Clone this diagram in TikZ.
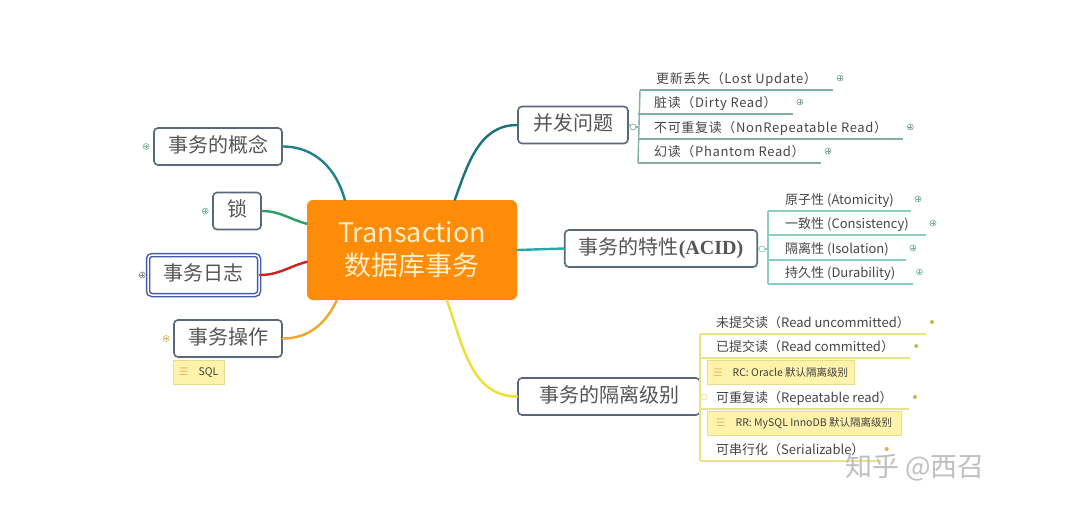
\documentclass[tikz,border=0pt]{standalone}
\usepackage{fontspec}
\setmainfont{Noto Sans CJK SC}
\newfontfamily\acidfont{Liberation Serif}
\newfontfamily\symfont{DejaVu Sans}
\usetikzlibrary{positioning,calc}
\definecolor{boxline}{RGB}{88,104,122}
\definecolor{topictext}{RGB}{85,85,85}
\definecolor{leaftext}{RGB}{70,70,70}
\definecolor{txorange}{RGB}{255,140,8}
\definecolor{txtext}{RGB}{255,238,200}
\definecolor{logblue}{RGB}{70,90,170}
\definecolor{notefill}{RGB}{255,242,170}
\definecolor{noteline}{RGB}{235,220,140}
\definecolor{noteicon}{RGB}{225,190,110}
\definecolor{brConcept}{RGB}{30,130,140}
\definecolor{brLock}{RGB}{40,160,100}
\definecolor{brLog}{RGB}{205,35,35}
\definecolor{brOp}{RGB}{240,165,45}
\definecolor{brIssue}{RGB}{25,115,125}
\definecolor{brAcid}{RGB}{40,170,170}
\definecolor{brIso}{RGB}{240,222,50}
\definecolor{lnIssue}{RGB}{130,175,165}
\definecolor{lnAcid}{RGB}{140,205,190}
\definecolor{lnIso}{RGB}{232,228,130}
\definecolor{mkIssue}{RGB}{125,160,150}
\definecolor{mkAcid}{RGB}{110,180,145}
\definecolor{mkIso}{RGB}{195,185,80}

\tikzset{
  topic/.style={draw=boxline,line width=1.6pt,rounded corners=4pt,fill=white,
    text=topictext,font=\fontsize{20}{22}\selectfont,inner xsep=14pt,inner ysep=9pt,
    text height=15pt,text depth=4pt},
  leaf/.style={anchor=south west,text=leaftext,font=\fontsize{13}{15}\selectfont,
    inner xsep=16pt,inner ysep=3pt,text height=10pt,text depth=3pt},
  wideleaf/.style={leaf,font=\fontsize{13}{15}\selectfont\addfontfeature{LetterSpace=5}},
  plusmark/.style={circle,draw=#1,fill=white,line width=0.6pt,minimum size=6pt,inner sep=0pt,
    path picture={\draw[#1,line width=0.5pt]
      ([xshift=-1.8pt]path picture bounding box.center)--([xshift=1.8pt]path picture bounding box.center)
      ([yshift=-1.8pt]path picture bounding box.center)--([yshift=1.8pt]path picture bounding box.center);}},
  plusmark/.default=gray,
  knob/.style={circle,draw=#1,fill=white,line width=0.7pt,minimum size=6pt,inner sep=0pt},
  dotmark/.style={circle,fill=#1,minimum size=4pt,inner sep=0pt},
  note/.style={anchor=north west,fill=notefill,draw=noteline,line width=0.4pt,
    font=\fontsize{10.5}{12}\selectfont,text=black!75,minimum height=24pt,inner xsep=6pt},
  branch/.style={line width=2.4pt,line cap=round},
  uline/.style={line width=1.4pt}
}
\newcommand{\noteicon}{\textcolor{noteicon}{\symfont ☰}\hspace{10pt}}

\begin{document}
\begin{tikzpicture}[x=1pt,y=-1pt]
  \useasboundingbox (0,0) rectangle (1069,509);
  \fill[white] (0,0) rectangle (1069,509);

  % centre
  \node[fill=txorange,rounded corners=6pt,minimum width=210pt,minimum height=100pt,
    text=txtext,align=center,font=\fontsize{27}{33}\selectfont] (tx) at (412,250)
    {Transaction\\数据库事务};

  % left topics
  \node[topic] (concept) at (218,146.5) {事务的概念};
  \node[topic] (lock) at (237,211) {锁};
  \node[topic,draw=logblue,double=white,double distance=1.5pt,line width=1.5pt,
    minimum width=111pt,minimum height=40pt] (log) at (203.5,275) {事务日志};
  \node[topic] (op) at (228,338.5) {事务操作};
  \node[note] (sql) at (173,360) {\noteicon SQL};

  \node[plusmark=mkAcid] (mconcept) at ([xshift=-7pt]concept.west) {};
  \node[plusmark=mkAcid] (mlock) at ([xshift=-7pt]lock.west) {};
  \node[plusmark=gray] (mlog) at ([xshift=-5pt]log.west) {};
  \node[plusmark=mkIso] (mop) at ([xshift=-7pt]op.west) {};

  \draw[branch,brConcept] (concept.east) to[out=0,in=105] ([xshift=38pt]tx.north west);
  \draw[branch,brLock] (lock.east) to[out=0,in=165] ([yshift=-24pt]tx.north west);
  \draw[branch,brLog] (log.east) to[out=0,in=195] ([yshift=-62pt]tx.north west);
  \draw[branch,brOp] (op.east) to[out=0,in=245] ([xshift=30pt]tx.south west);

  % right topics
  \node[topic,inner xsep=15pt] (issue) at (573,125) {并发问题};
  \node[topic] (acid) at (661,248.5) {事务的特性{\acidfont\bfseries (ACID)}};
  \node[topic,minimum width=182pt] (iso) at (609,396.5) {事务的隔离级别};

  \draw[branch,brIssue] ([xshift=148pt]tx.north west) to[out=70,in=180] (issue.west);
  \draw[branch,brAcid] (tx.east) -- (acid.west);
  \draw[branch,brIso] ([xshift=140pt]tx.south west) to[out=-70,in=180] (iso.west);

  % concurrency problems
  \node[wideleaf] (lost) at (640,90) {更新丢失（Lost Update）};
  \node[wideleaf] (dirty) at (638,114) {脏读（Dirty Read）};
  \node[wideleaf] (nonrep) at (638,139) {不可重复读（NonRepeatable Read）};
  \node[wideleaf] (phantom) at (638,163) {幻读（Phantom Read）};
  \node[knob=lnIssue] (kissue) at (633,127) {};
  \draw[uline,lnIssue] (issue.east) -- (kissue);
  \draw[uline,lnIssue] (kissue) -- (kissue -| nonrep.south west);
  \draw[uline,lnIssue] (lost.south west) -- (phantom.south west);
  \foreach \n in {lost,dirty,nonrep,phantom} {
    \draw[uline,lnIssue] (\n.south west) -- (\n.south east);
    \node[plusmark=mkIssue] (m\n) at ([xshift=7pt,yshift=12pt]\n.south east) {};
  }

  % ACID
  \node[leaf,inner xsep=17pt] (atom) at (768,211) {原子性 (Atomicity)};
  \node[leaf,inner xsep=17pt] (cons) at (768,235) {一致性 (Consistency)};
  \node[leaf,inner xsep=17pt] (isol) at (768,260) {隔离性 (Isolation)};
  \node[leaf,inner xsep=17pt] (dura) at (768,284) {持久性 (Durability)};
  \node[knob=lnAcid] (kacid) at (762,249) {};
  \draw[uline,lnAcid] (acid.east) -- (kacid);
  \draw[uline,lnAcid] (kacid) -- (kacid -| atom.south west);
  \draw[uline,lnAcid] (atom.south west) -- (dura.south west);
  \foreach \n in {atom,cons,isol,dura} {
    \draw[uline,lnAcid] (\n.south west) -- (\n.south east);
    \node[plusmark=mkAcid] (m\n) at ([xshift=7pt,yshift=12pt]\n.south east) {};
  }

  % isolation levels
  \node[leaf] (ru) at (700,334) {未提交读（Read uncommitted）};
  \node[leaf] (rc) at (700,358) {已提交读（Read committed）};
  \node[note] (rcnote) at (707,360) {\noteicon RC: Oracle 默认隔离级别};
  \node[leaf] (rr) at (700,409) {可重复读（Repeatable read）};
  \node[note,inner xsep=9pt] (rrnote) at (707,411) {\noteicon RR: MySQL InnoDB 默认隔离级别};
  \node[leaf] (sz) at (700,461) {可串行化（Serializable）};
  \node[knob=lnIso] (kiso) at (704,397) {};
  \draw[uline,lnIso] (iso.east) -- (kiso);
  \draw[uline,lnIso] (ru.south west) -- (sz.south west);
  \foreach \n in {ru,rc,rr,sz} {
    \draw[uline,lnIso] (\n.south west) -- (\n.south east);
    \node[dotmark=mkIso] (m\n) at ([xshift=6pt,yshift=12pt]\n.south east) {};
  }

  % watermark
  \node[text=black!25,font=\fontsize{27}{30}\selectfont] (zhihu) at (915,467) {知乎 @西召};
\end{tikzpicture}
\end{document}
